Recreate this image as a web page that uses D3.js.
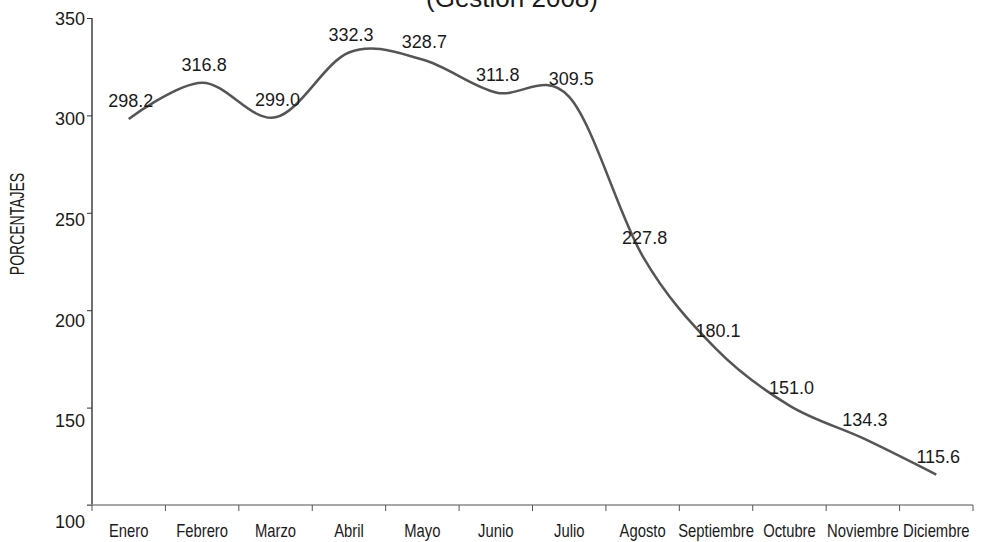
<!DOCTYPE html>
<html>
<head>
<meta charset="utf-8">
<script src="https://cdn.jsdelivr.net/npm/d3@7"></script>
<style>
  html, body { margin: 0; padding: 0; background: #fff; }
  svg { display: block; }
  text { font-family: "Liberation Sans", Arial, sans-serif; }
</style>
</head>
<body>
<svg id="chart" width="983" height="542"></svg>
<script>
const title = "(Gestión 2008)";
const yTitle = "PORCENTAJES";
const months = ["Enero", "Febrero", "Marzo", "Abril", "Mayo", "Junio", "Julio", "Agosto", "Septiembre", "Octubre", "Noviembre", "Diciembre"];
const values = [298.2, 316.8, 299.0, 332.3, 328.7, 311.8, 309.5, 227.8, 180.1, 151.0, 134.3, 115.6];
const yTicks = [100, 150, 200, 250, 300, 350];

(function () {
const svg = d3.select("#chart");
const mLeft = 92, mRight = 973, mTop = 18, mBottom = 505;

const x = d3.scaleBand().domain(months).range([mLeft, mRight]).padding(0);
const y = d3.scaleLinear().domain([100, 350]).range([mBottom, mTop]);
const yLab = d3.scaleLinear().domain([100, 350]).range([521, 18]);
const cx = d => x(d) + x.bandwidth() / 2;

// Title (partly cut off at top, as in the reference)
svg.append("text")
  .attr("x", 512).attr("y", 6.5)
  .attr("text-anchor", "middle")
  .style("font-size", "26px")
  .attr("fill", "#1a1a1a")
  .text(title);

// Y axis
const yAxis = svg.append("g")
  .attr("transform", `translate(${mLeft},0)`)
  .call(d3.axisLeft(y).tickValues(yTicks).tickSize(5).tickFormat(d3.format("d")));
yAxis.select(".domain").attr("stroke", "#111").attr("stroke-width", 1.2).attr("d", `M0,${mTop}V${mBottom}`);
yAxis.selectAll(".tick line").attr("stroke", "#333").attr("stroke-width", 1);
yAxis.selectAll(".tick text")
  .attr("x", -7)
  .attr("y", d => yLab(d) - y(d))
  .attr("dy", "0.35em")
  .style("font-family", "'Liberation Sans', Arial, sans-serif")
  .style("font-size", "18px")
  .attr("fill", "#1a1a1a");

// X axis line and condensed category labels
const xAxis = svg.append("g")
  .attr("transform", `translate(0,${mBottom})`)
  .call(d3.axisBottom(x).tickSize(0).tickPadding(19));
xAxis.select(".domain").attr("stroke", "#8a8a8a").attr("stroke-width", 1.6).attr("d", `M${mLeft - 5},0H${mRight}`);
xAxis.selectAll(".tick text")
  .attr("transform", "scale(0.8,1)")
  .style("font-family", "'Liberation Sans', Arial, sans-serif")
  .style("font-size", "18.5px")
  .attr("fill", "#1a1a1a");

// X tick marks at category boundaries
const bounds = months.map(m => x(m)).concat([x.range()[1]]);
svg.append("g").selectAll("line")
  .data(bounds).join("line")
  .attr("x1", d => d).attr("x2", d => d)
  .attr("y1", mBottom).attr("y2", mBottom + 6)
  .attr("stroke", "#555").attr("stroke-width", 1);

// Y axis title
svg.append("text")
  .attr("transform", `translate(24,224) rotate(-90) scale(0.7,1)`)
  .attr("text-anchor", "middle")
  .style("font-size", "20px")
  .attr("fill", "#1a1a1a")
  .text(yTitle);

// Smoothed line
const line = d3.line()
  .x((d, i) => cx(months[i]))
  .y(d => y(d))
  .curve(d3.curveCardinal.tension(0));
svg.append("path")
  .datum(values)
  .attr("d", line)
  .attr("fill", "none")
  .attr("stroke", "#555")
  .attr("stroke-width", 2.5);

// Data labels
svg.append("g").selectAll("text")
  .data(values).join("text")
  .attr("x", (d, i) => cx(months[i]) + 2)
  .attr("y", d => y(d) - 18)
  .attr("dy", "0.35em")
  .attr("text-anchor", "middle")
  .style("font-size", "18px")
  .attr("fill", "#1a1a1a")
  .text(d => d.toFixed(1));
})();
</script>
</body>
</html>
